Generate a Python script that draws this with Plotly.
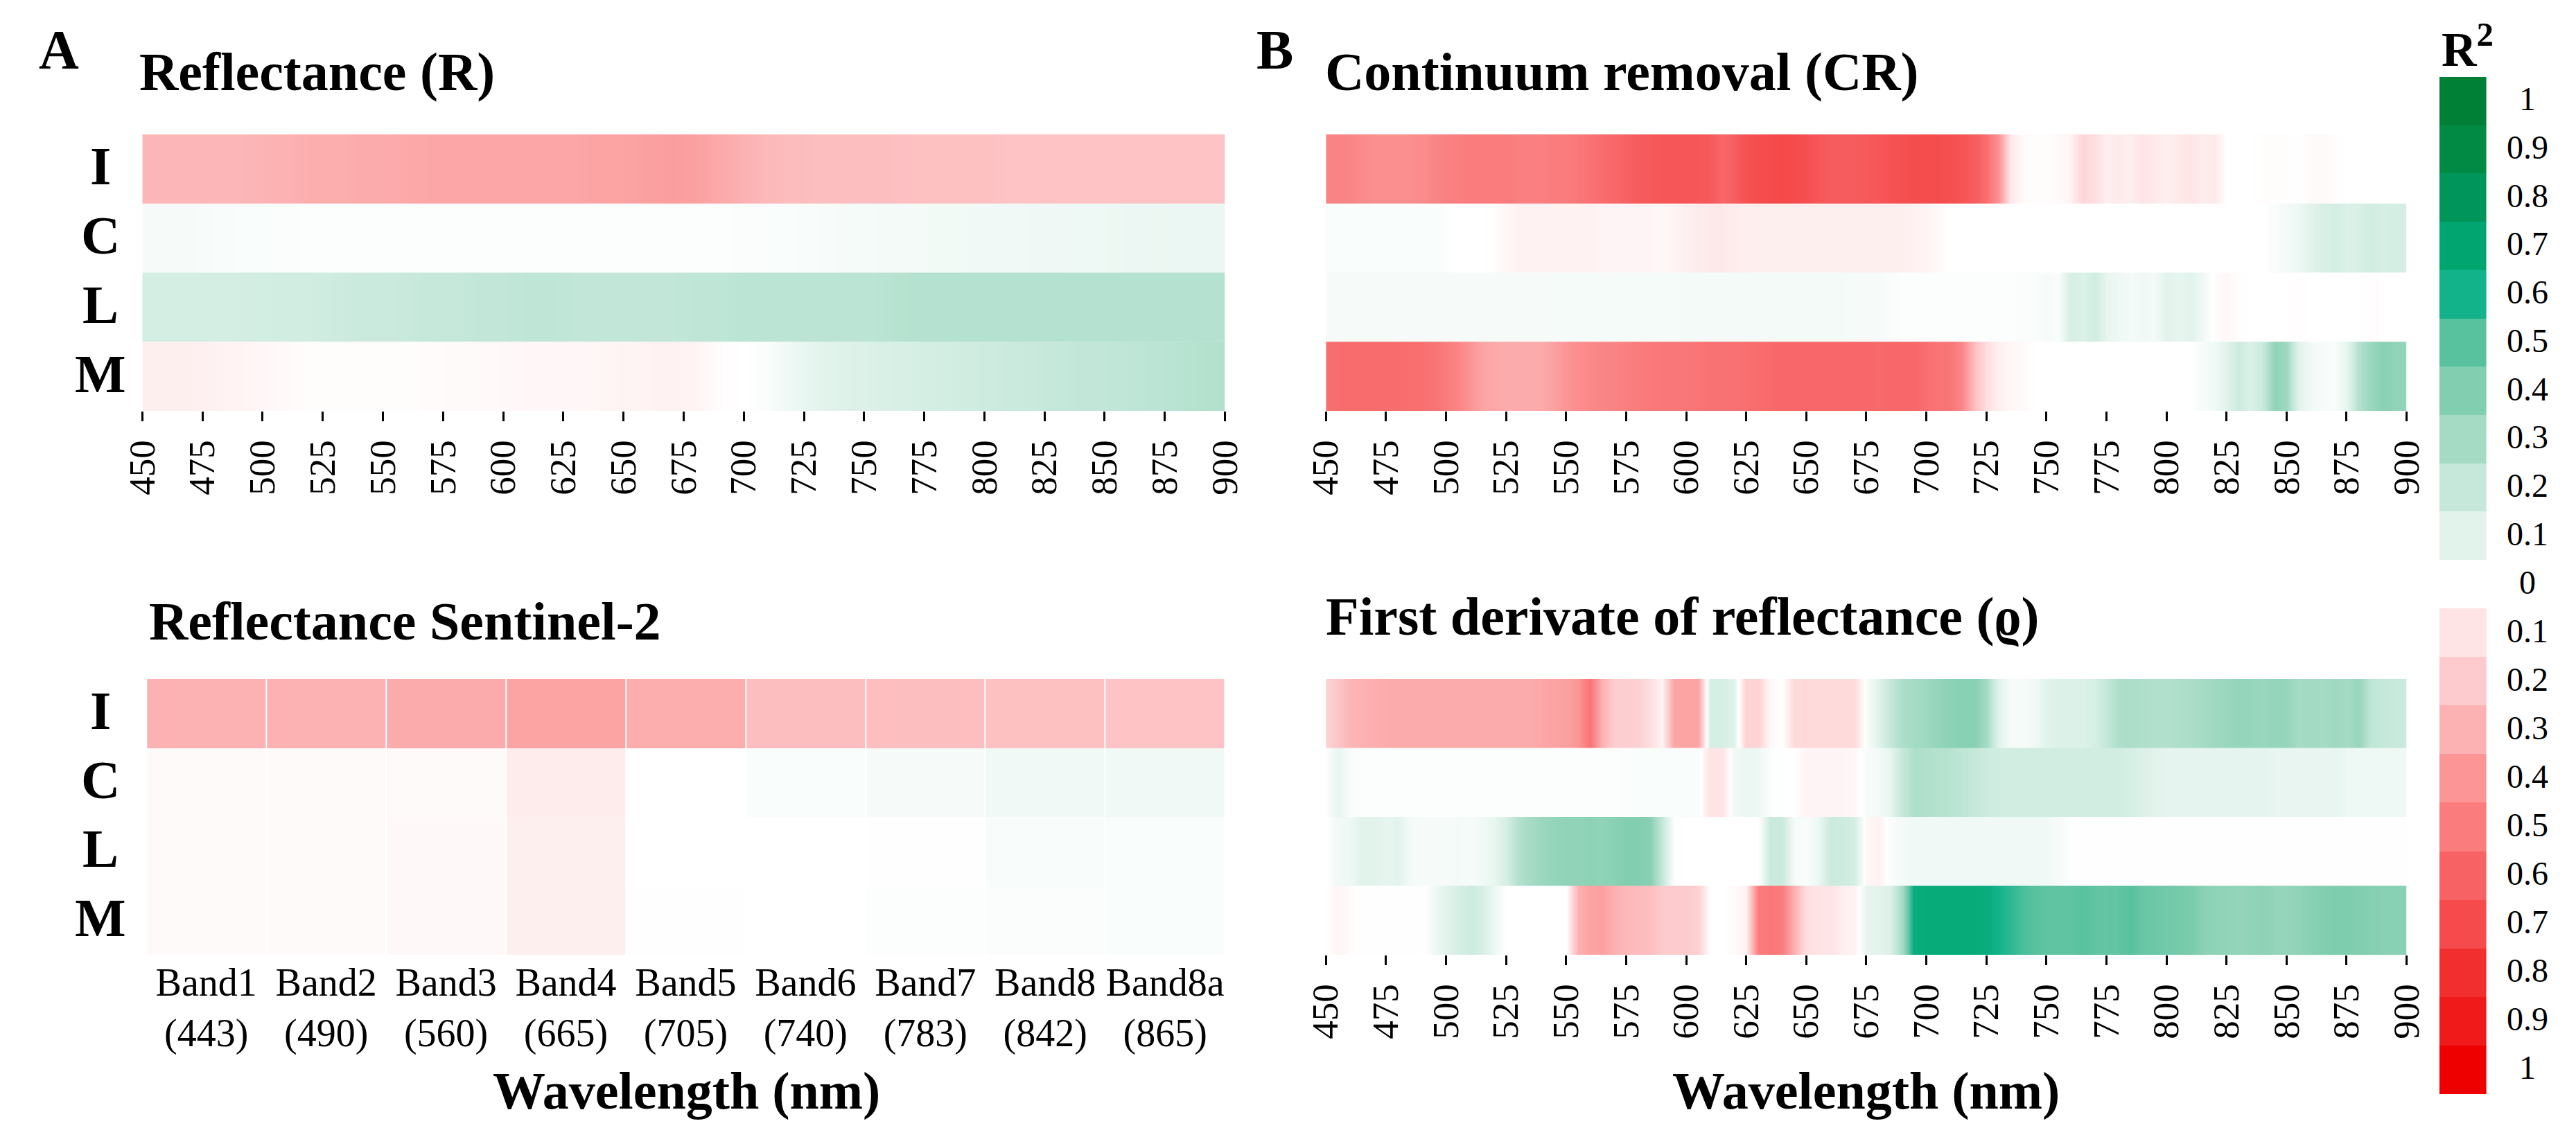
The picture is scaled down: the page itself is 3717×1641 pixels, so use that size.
import plotly.graph_objects as go

W, H = 3717, 1641

rows = ['I', 'C', 'L', 'M']
wl_10 = list(range(450, 901, 10))
wl_5 = list(range(450, 901, 5))
wl_ticks = list(range(450, 901, 25))

# signed R2: negative = red, positive = green
# Reflectance (R), every 10 nm
refl_I = [-0.28, -0.28, -0.28, -0.28, -0.28, -0.29, -0.30, -0.31, -0.31, -0.32,
          -0.32, -0.33, -0.34, -0.34, -0.34, -0.34, -0.34, -0.34, -0.34, -0.35,
          -0.35, -0.36, -0.37, -0.36, -0.33, -0.30, -0.27, -0.26, -0.25, -0.25,
          -0.25, -0.25, -0.24, -0.24, -0.24, -0.24, -0.23, -0.23, -0.23, -0.23,
          -0.23, -0.23, -0.23, -0.23, -0.23, -0.23]
refl_C = [0.03, 0.03, 0.03, 0.025, 0.02, 0.02, 0.015, 0.01, 0.01, 0.01,
          0.01, 0.01, 0.01, 0.01, 0.01, 0.01, 0.01, 0.01, 0.01, 0.01,
          0.01, 0.01, 0.01, 0.01, 0.01, 0.015, 0.02, 0.02, 0.025, 0.03,
          0.035, 0.04, 0.04, 0.045, 0.045, 0.05, 0.05, 0.055, 0.055, 0.06,
          0.06, 0.065, 0.065, 0.07, 0.07, 0.07]
refl_L = [0.15, 0.15, 0.15, 0.15, 0.15, 0.155, 0.16, 0.16, 0.17, 0.18,
          0.18, 0.19, 0.20, 0.20, 0.21, 0.21, 0.22, 0.22, 0.21, 0.21,
          0.21, 0.21, 0.21, 0.22, 0.22, 0.23, 0.23, 0.23, 0.23, 0.23,
          0.23, 0.24, 0.25, 0.25, 0.25, 0.25, 0.25, 0.25, 0.25, 0.25,
          0.25, 0.25, 0.25, 0.25, 0.25, 0.25]
refl_M = [-0.06, -0.06, -0.06, -0.05, -0.04, -0.03, -0.02, -0.01, -0.01, -0.01,
          -0.01, -0.01, -0.015, -0.02, -0.02, -0.025, -0.03, -0.03, -0.03, -0.035,
          -0.04, -0.045, -0.05, -0.04, -0.01, 0.0, 0.02, 0.06, 0.09, 0.11,
          0.12, 0.13, 0.14, 0.15, 0.16, 0.17, 0.18, 0.19, 0.20, 0.21,
          0.21, 0.22, 0.23, 0.24, 0.25, 0.26]

# Continuum removal (CR), every 5 nm
cr_I = [-0.47, -0.47, -0.46, -0.44, -0.43, -0.43, -0.43, -0.43, -0.44, -0.46,
        -0.48, -0.49, -0.50, -0.50, -0.50, -0.50, -0.49, -0.49, -0.49, -0.50,
        -0.50, -0.52, -0.54, -0.56, -0.58, -0.60, -0.63, -0.64, -0.65, -0.65,
        -0.65, -0.65, -0.64, -0.58, -0.62, -0.67, -0.69, -0.70, -0.71, -0.70,
        -0.68, -0.65, -0.63, -0.63, -0.63, -0.64, -0.65, -0.67, -0.68, -0.69,
        -0.69, -0.69, -0.68, -0.66, -0.62, -0.55, -0.42, -0.08, -0.02, -0.01,
        -0.01, -0.02, -0.04, -0.16, -0.12, -0.06, -0.08, -0.06, -0.10, -0.08,
        -0.06, -0.08, -0.10, -0.07, -0.08, 0.0, 0.0, 0.0, -0.01, -0.01,
        -0.01, 0.0, -0.02, -0.02, -0.01, 0.0, 0.0, 0.0, 0.0, 0.0,
        0.0]
cr_C = [0.02, 0.02, 0.02, 0.02, 0.02, 0.02, 0.02, 0.02, 0.02, 0.02,
        0.01, 0.0, 0.0, 0.0, -0.01, -0.03, -0.05, -0.05, -0.05, -0.05,
        -0.05, -0.05, -0.05, -0.04, -0.04, -0.04, -0.04, -0.04, -0.03, -0.04,
        -0.06, -0.07, -0.08, -0.08, -0.07, -0.06, -0.06, -0.06, -0.06, -0.06,
        -0.06, -0.06, -0.06, -0.06, -0.06, -0.06, -0.06, -0.06, -0.06, -0.05,
        -0.04, -0.02, 0.0, 0.0, 0.0, 0.0, 0.0, 0.0, 0.0, 0.0,
        0.0, 0.0, 0.0, 0.0, 0.0, 0.0, 0.0, 0.0, 0.0, 0.0,
        0.0, 0.0, 0.0, 0.0, 0.0, 0.0, 0.0, 0.0, 0.0, 0.02,
        0.04, 0.06, 0.10, 0.13, 0.15, 0.12, 0.13, 0.16, 0.14, 0.15,
        0.14]
cr_L = [0.03, 0.03, 0.03, 0.03, 0.03, 0.03, 0.03, 0.03, 0.03, 0.03,
        0.03, 0.03, 0.03, 0.03, 0.03, 0.03, 0.03, 0.03, 0.03, 0.03,
        0.035, 0.035, 0.035, 0.035, 0.035, 0.035, 0.035, 0.035, 0.035, 0.035,
        0.04, 0.04, 0.04, 0.04, 0.04, 0.04, 0.04, 0.04, 0.04, 0.04,
        0.04, 0.04, 0.04, 0.04, 0.03, 0.03, 0.03, 0.02, 0.01, 0.01,
        0.01, 0.01, 0.01, 0.01, 0.01, 0.01, 0.01, 0.01, 0.015, 0.02,
        0.03, 0.02, 0.14, 0.12, 0.16, 0.08, 0.06, 0.04, 0.05, 0.04,
        0.10, 0.08, 0.10, 0.05, -0.01, -0.03, -0.01, 0.0, 0.0, 0.0,
        0.0, -0.01, 0.0, 0.0, 0.0, 0.0, 0.0, -0.01, 0.0, 0.0,
        0.0]
cr_M = [-0.55, -0.56, -0.56, -0.56, -0.56, -0.56, -0.56, -0.55, -0.55, -0.53,
        -0.50, -0.46, -0.40, -0.35, -0.33, -0.32, -0.32, -0.32, -0.33, -0.36,
        -0.40, -0.43, -0.45, -0.46, -0.47, -0.49, -0.50, -0.51, -0.52, -0.52,
        -0.52, -0.53, -0.54, -0.54, -0.54, -0.55, -0.56, -0.57, -0.58, -0.58,
        -0.58, -0.58, -0.58, -0.58, -0.58, -0.58, -0.57, -0.58, -0.58, -0.58,
        -0.55, -0.53, -0.52, -0.45, -0.25, -0.12, -0.06, -0.03, -0.02, 0.0,
        0.0, 0.0, 0.0, 0.0, 0.0, 0.0, 0.0, 0.0, 0.0, 0.0,
        0.0, 0.0, 0.0, 0.03, 0.05, 0.10, 0.17, 0.12, 0.18, 0.36,
        0.32, 0.10, 0.05, 0.03, 0.02, 0.08, 0.25, 0.33, 0.38, 0.36,
        0.35]

# First derivative of reflectance, every 5 nm
fd_I = [-0.17, -0.22, -0.28, -0.30, -0.31, -0.32, -0.32, -0.32, -0.32, -0.32,
        -0.32, -0.32, -0.32, -0.32, -0.32, -0.32, -0.32, -0.32, -0.34, -0.35,
        -0.36, -0.40, -0.53, -0.30, -0.19, -0.19, -0.18, -0.12, -0.04, -0.34,
        -0.35, -0.35, 0.14, 0.14, 0.10, -0.17, -0.17, -0.02, 0.0, -0.14,
        -0.14, -0.14, -0.14, -0.14, -0.14, 0.02, 0.10, 0.20, 0.28, 0.30,
        0.32, 0.35, 0.37, 0.38, 0.38, 0.30, 0.10, 0.03, 0.03, 0.05,
        0.10, 0.12, 0.12, 0.12, 0.14, 0.20, 0.27, 0.28, 0.27, 0.26,
        0.26, 0.27, 0.28, 0.30, 0.32, 0.33, 0.35, 0.34, 0.33, 0.35,
        0.34, 0.30, 0.31, 0.30, 0.32, 0.30, 0.34, 0.22, 0.20, 0.19,
        0.19]
fd_C = [0.01, 0.08, 0.02, 0.01, 0.01, 0.01, 0.01, 0.01, 0.01, 0.01,
        0.01, 0.01, 0.01, 0.01, 0.01, 0.01, 0.01, 0.01, 0.01, 0.01,
        0.01, 0.01, 0.01, 0.01, 0.01, 0.015, 0.02, 0.02, 0.02, 0.02,
        0.02, 0.02, -0.10, -0.10, 0.05, 0.07, 0.06, 0.01, 0.005, 0.0,
        -0.04, -0.04, -0.04, -0.04, -0.03, 0.03, 0.04, 0.08, 0.20, 0.27,
        0.26, 0.25, 0.24, 0.22, 0.20, 0.17, 0.16, 0.16, 0.16, 0.16,
        0.16, 0.16, 0.16, 0.16, 0.16, 0.16, 0.16, 0.14, 0.12, 0.10,
        0.09, 0.09, 0.09, 0.09, 0.09, 0.09, 0.09, 0.09, 0.09, 0.08,
        0.08, 0.08, 0.08, 0.08, 0.08, 0.06, 0.06, 0.06, 0.06, 0.06,
        0.06]
fd_L = [0.0, 0.05, 0.06, 0.10, 0.10, 0.08, 0.10, 0.04, 0.03, 0.03,
        0.03, 0.04, 0.03, 0.05, 0.08, 0.14, 0.25, 0.30, 0.33, 0.35,
        0.36, 0.36, 0.37, 0.36, 0.38, 0.40, 0.40, 0.38, 0.20, 0.01,
        0.0, 0.0, 0.0, 0.0, 0.0, 0.0, 0.0, 0.18, 0.18, 0.03,
        0.02, 0.06, 0.18, 0.17, 0.15, -0.03, -0.05, 0.02, 0.04, 0.05,
        0.05, 0.05, 0.05, 0.05, 0.05, 0.05, 0.05, 0.05, 0.05, 0.05,
        0.05, 0.03, 0.005, 0.005, 0.005, 0.005, 0.005, 0.005, 0.005, 0.005,
        0.005, 0.005, 0.005, 0.005, 0.005, 0.005, 0.005, 0.005, 0.005, 0.005,
        0.005, 0.005, 0.005, 0.005, 0.005, 0.005, 0.005, 0.005, 0.005, 0.005,
        0.005]
fd_M = [0.0, -0.04, -0.01, -0.005, -0.005, -0.005, -0.005, -0.005, -0.005, 0.05,
        0.10, 0.14, 0.17, 0.14, 0.06, 0.0, 0.0, 0.0, 0.0, 0.0,
        0.0, -0.30, -0.35, -0.36, -0.30, -0.27, -0.26, -0.25, -0.20, -0.20,
        -0.20, -0.18, 0.0, 0.0, -0.02, -0.05, -0.50, -0.52, -0.50, -0.30,
        -0.12, -0.10, -0.10, -0.06, -0.05, 0.08, 0.10, 0.12, 0.30, 0.65,
        0.66, 0.66, 0.66, 0.66, 0.66, 0.65, 0.60, 0.56, 0.52, 0.50,
        0.48, 0.48, 0.48, 0.50, 0.48, 0.47, 0.48, 0.50, 0.46, 0.45,
        0.44, 0.43, 0.42, 0.38, 0.36, 0.36, 0.35, 0.36, 0.37, 0.35,
        0.35, 0.36, 0.38, 0.40, 0.41, 0.41, 0.40, 0.39, 0.38, 0.38,
        0.38]

# Sentinel-2 bands
bands = ['Band1<br>(443)', 'Band2<br>(490)', 'Band3<br>(560)', 'Band4<br>(665)',
         'Band5<br>(705)', 'Band6<br>(740)', 'Band7<br>(783)', 'Band8<br>(842)',
         'Band8a<br>(865)']
s2_I = [-0.30, -0.30, -0.32, -0.35, -0.31, -0.25, -0.25, -0.24, -0.23]
s2_C = [-0.02, -0.02, -0.02, -0.07, 0.0, 0.02, 0.03, 0.05, 0.05]
s2_L = [-0.02, -0.02, -0.025, -0.06, 0.0, 0.0, 0.005, 0.025, 0.02]
s2_M = [-0.02, -0.02, -0.025, -0.06, -0.005, 0.0, 0.01, 0.015, 0.02]

# legend steps
steps = [0.1, 0.2, 0.3, 0.4, 0.5, 0.6, 0.7, 0.8, 0.9, 1.0]
step_labels = ['0.1', '0.2', '0.3', '0.4', '0.5', '0.6', '0.7', '0.8', '0.9', '1']
green_cols = ['#e2f3ec', '#c5e8da', '#a5dbc5', '#82ceb0', '#58c19e',
              '#12b38a', '#00a56f', '#00955a', '#008a43', '#007f36']
red_cols = ['#fee4e5', '#fdcbcd', '#fcb1b2', '#fb9596', '#fa7c7d',
            '#f76264', '#f54b4c', '#f22f2f', '#f01a1a', '#ee0000']

cscale = []
for v, c in zip(steps[::-1], red_cols[::-1]):
    cscale.append([(1 - v) / 2, c])
cscale.append([0.5, '#ffffff'])
for v, c in zip(steps, green_cols):
    cscale.append([(1 + v) / 2, c])

SERIF = 'Liberation Serif, Times New Roman, serif'


def fx(px):
    return px / W


def fy(py):
    return 1 - py / H


fig = go.Figure()

# one trace per row (row doubled so the smoothing only runs along wavelength)
panels = [
    ('x', 'y', wl_10, [refl_I, refl_C, refl_L, refl_M]),
    ('x2', 'y2', wl_5, [cr_I, cr_C, cr_L, cr_M]),
    ('x4', 'y4', wl_5, [fd_I, fd_C, fd_L, fd_M]),
]
for xa, ya, wl, data in panels:
    for k, vals in enumerate(data):
        fig.add_trace(go.Heatmap(
            x=wl, y=[k - 0.25, k + 0.25], z=[vals, vals], xaxis=xa, yaxis=ya,
            colorscale=cscale, zmin=-1, zmax=1, zsmooth='best',
            showscale=False, hoverinfo='skip'))

fig.add_trace(go.Heatmap(
    x=bands, y=[0, 1, 2, 3], z=[s2_I, s2_C, s2_L, s2_M], xaxis='x3', yaxis='y3',
    colorscale=cscale, zmin=-1, zmax=1, xgap=2,
    showscale=False, hoverinfo='skip'))

# discrete legend bars
fig.add_trace(go.Heatmap(
    x=[0], y=steps, z=[[v] for v in steps], xaxis='x5', yaxis='y5',
    colorscale=cscale, zmin=-1, zmax=1, showscale=False, hoverinfo='skip'))
fig.add_trace(go.Heatmap(
    x=[0], y=steps, z=[[-v] for v in steps], xaxis='x6', yaxis='y6',
    colorscale=cscale, zmin=-1, zmax=1, showscale=False, hoverinfo='skip'))

num_x = dict(range=[450, 900], tickvals=wl_ticks, ticktext=[str(t) for t in wl_ticks],
             tickangle=-90, ticks='outside', ticklen=14, tickwidth=3,
             tickcolor='black', showgrid=False, zeroline=False, showline=False,
             tickfont=dict(family=SERIF, size=53, color='black'),
             ticklabelstandoff=6)
row_y = dict(range=[3.5, -0.5], visible=False)
top = [fy(585), fy(186)]
bot = [fy(1370), fy(972)]

fig.update_layout(
    width=W, height=H,
    margin=dict(l=0, r=0, t=0, b=0),
    paper_bgcolor='white', plot_bgcolor='white',
    font=dict(family=SERIF, color='black'),
    xaxis=dict(domain=[fx(170), fx(1757)], anchor='y', **num_x),
    yaxis=dict(domain=top, anchor='x', **row_y),
    xaxis2=dict(domain=[fx(1905), fx(3489)], anchor='y2', **num_x),
    yaxis2=dict(domain=top, anchor='x2', **row_y),
    xaxis3=dict(domain=[fx(176), fx(1757)], anchor='y3', showgrid=False,
                zeroline=False, ticks='', ticklabelstandoff=2,
                tickfont=dict(family=SERIF, size=56, color='black')),
    yaxis3=dict(domain=bot, anchor='x3', **row_y),
    xaxis4=dict(domain=[fx(1905), fx(3489)], anchor='y4', **num_x),
    yaxis4=dict(domain=bot, anchor='x4', **row_y),
    xaxis5=dict(domain=[fx(3537), fx(3606)], anchor='y5', visible=False,
                range=[-0.5, 0.5]),
    yaxis5=dict(domain=[fy(800), fy(103)], anchor='x5', visible=False,
                range=[0.05, 1.05]),
    xaxis6=dict(domain=[fx(3537), fx(3606)], anchor='y6', visible=False,
                range=[-0.5, 0.5]),
    yaxis6=dict(domain=[fy(1571), fy(870)], anchor='x6', visible=False,
                range=[1.05, 0.05]),
)

ann = []


def label(text, px, py, size, xanchor='left', bold=True):
    ann.append(dict(text='<b>%s</b>' % text if bold else text,
                    x=fx(px), y=fy(py), xref='paper', yref='paper',
                    xanchor=xanchor, yanchor='middle', showarrow=False,
                    font=dict(family=SERIF, size=size, color='black')))


label('A', 16, 64, 80)
label('B', 1801, 64, 80)
label('Reflectance (R)', 164, 95, 78)
label('Continuum removal (CR)', 1902, 95, 78)
label('Reflectance Sentinel-2', 178, 888, 78)
label('First derivate of reflectance (ϱ)', 1903, 881, 78)
label('Wavelength (nm)', 968, 1566, 76, xanchor='center')
label('Wavelength (nm)', 2697, 1566, 76, xanchor='center')
label('R<sup>2</sup>', 3578, 58, 70, xanchor='center')
label('0', 3666, 832, 48, xanchor='center', bold=False)

for ya in ['y', 'y3']:
    for k, r in enumerate(rows):
        ann.append(dict(text='<b>%s</b>' % r, x=fx(109), y=k, xref='paper', yref=ya,
                        xanchor='center', yanchor='middle', showarrow=False,
                        yshift=4,
                        font=dict(family=SERIF, size=78, color='black')))

for ya in ['y5', 'y6']:
    for v, t in zip(steps, step_labels):
        ann.append(dict(text=t, x=fx(3666), y=v, xref='paper', yref=ya,
                        xanchor='center', yanchor='middle', showarrow=False,
                        yshift=3,
                        font=dict(family=SERIF, size=48, color='black')))

fig.update_layout(annotations=ann)

fig.write_html("out.html")
